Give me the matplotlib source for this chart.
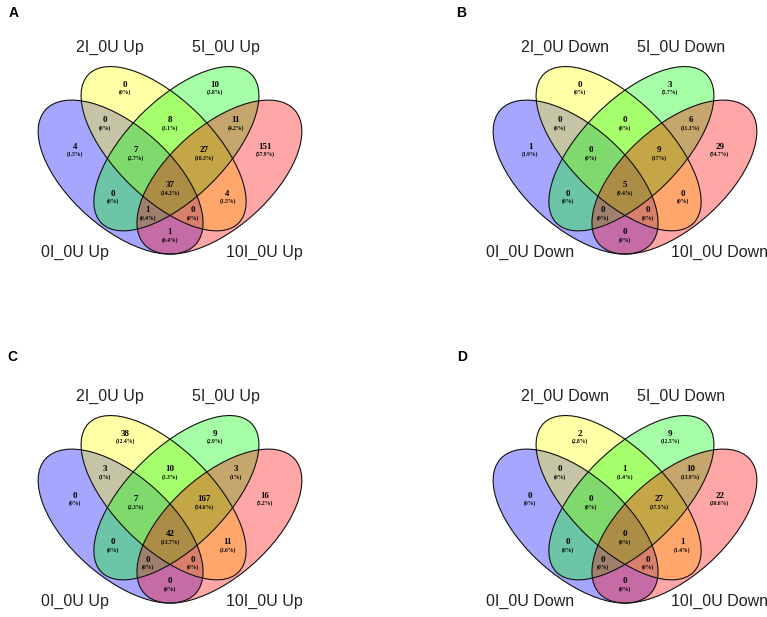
import matplotlib.pyplot as plt
from matplotlib.patches import Ellipse

set_names = ['0I_0U', '2I_0U', '5I_0U', '10I_0U']
panel_letters = ['A', 'B', 'C', 'D']
panel_dirs = ['Up', 'Down', 'Up', 'Down']
region_keys = ['A', 'B', 'C', 'D', 'AB', 'AC', 'AD', 'BC', 'BD', 'CD',
               'ABC', 'ABD', 'ACD', 'BCD', 'ABCD']
counts_a = [4, 0, 10, 151, 0, 0, 1, 8, 4, 11, 7, 0, 1, 27, 37]
counts_b = [1, 0, 3, 29, 0, 0, 0, 0, 0, 6, 0, 0, 0, 9, 5]
counts_c = [0, 38, 9, 16, 3, 0, 0, 10, 11, 3, 7, 0, 0, 167, 42]
counts_d = [0, 2, 9, 22, 0, 0, 0, 1, 1, 10, 0, 0, 0, 27, 0]
all_counts = [counts_a, counts_b, counts_c, counts_d]

# ellipse layout in panel pixels: centre x, centre y, semi-axes, angle
# (outer sets mirror each other about x = 170)
cx0 = 170.0
ell_outer = (120.6, 177.1, 100.8, 50.7, -138.3)
ell_inner = (163.6, 148.7, 105.6, 49.1, -135.2)
ell = [ell_outer, ell_inner,
       (2 * cx0 - ell_inner[0], ell_inner[1], ell_inner[2], ell_inner[3], -ell_inner[4]),
       (2 * cx0 - ell_outer[0], ell_outer[1], ell_outer[2], ell_outer[3], -ell_outer[4])]
fills = ['#0000ff', '#ffff00', '#00ff00', '#ff0000']

label_pos = {
    'B': (-45, 88.7), 'C': (45, 88.7),
    'AB': (-65.5, 124), 'BC': (0, 124), 'CD': (65.5, 124),
    'A': (-94.8, 150.3), 'ABC': (-34, 154), 'BCD': (34, 154), 'D': (94.8, 150.3),
    'AC': (-57.5, 197.2), 'ABCD': (0, 189), 'BD': (57.5, 197.2),
    'ACD': (-22.5, 214.2), 'ABD': (22.5, 214.2), 'AD': (0, 236)}
cat_pos = [(-95.3, 252.7), (-60.3, 47.3), (56, 47.3), (94.7, 252.7)]
origins = [(0, 0), (455, 0), (0, 349), (455, 349)]
letter_pos = [(13.3, 13.3), (461.5, 13.3), (12.5, 356.7), (462.3, 356.7)]


def pct(n, total):
    s = '%.1f' % round(100.0 * n / total, 1)
    if s.endswith('.0'):
        s = s[:-2]
    return '(' + s + '%)'


fig = plt.figure(figsize=(7.67, 6.17), dpi=100)
ax = fig.add_axes([0, 0, 1, 1])
ax.set_xlim(0, 767)
ax.set_ylim(617, 0)
ax.axis('off')

for k in range(4):
    ox, oy = origins[k]
    for (ecx, ecy, a, b, ang), col in zip(ell, fills):
        ax.add_patch(Ellipse((ox + ecx, oy + ecy), 2 * a, 2 * b, angle=ang,
                             facecolor=col, alpha=0.35, edgecolor='none'))
    for (ecx, ecy, a, b, ang) in ell:
        ax.add_patch(Ellipse((ox + ecx, oy + ecy), 2 * a, 2 * b, angle=ang,
                             facecolor='none', edgecolor='#111111', lw=0.8))
    counts = all_counts[k]
    total = sum(counts)
    for key, n in zip(region_keys, counts):
        dx, y = label_pos[key]
        ax.text(ox + cx0 + dx, oy + y - 3.7, str(n), ha='center', va='center',
                family='Liberation Serif', weight='bold', fontsize=6.5)
        ax.text(ox + cx0 + dx, oy + y + 3.7, pct(n, total), ha='center', va='center',
                family='Liberation Serif', weight='bold', fontsize=4)
    for name, (dx, y) in zip(set_names, cat_pos):
        ax.text(ox + cx0 + dx, oy + y, name + ' ' + panel_dirs[k], ha='center',
                va='center', family='Liberation Sans', fontsize=11.5, color='#222222')
    lx, ly = letter_pos[k]
    ax.text(lx, ly, panel_letters[k], ha='center', va='center',
            family='Liberation Sans', weight='bold', fontsize=10)

fig.savefig('out.png', dpi=100)
